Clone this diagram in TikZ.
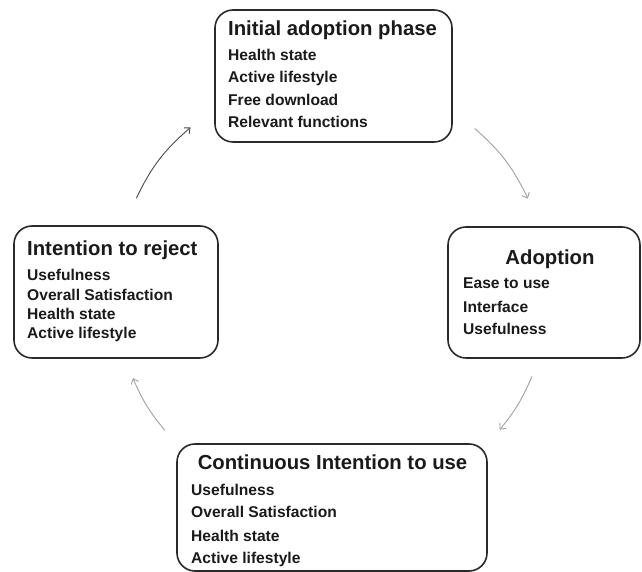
\documentclass[tikz,border=0pt]{standalone}
\usepackage{fontspec}
\setmainfont{Liberation Sans}
\usetikzlibrary{arrows.meta}
\definecolor{boxline}{HTML}{2A2A2A}
\definecolor{txt}{HTML}{1A1A1A}
\definecolor{arrdark}{HTML}{4A4A4A}
\definecolor{arrlight}{HTML}{A0A0A0}
\begin{document}
\begin{tikzpicture}[x=1pt,y=1pt,
  boxstyle/.style={draw=boxline, line width=1.6pt, rounded corners=18pt, inner sep=0pt, fill=white},
  titletext/.style={font=\fontsize{20.3}{24}\selectfont\bfseries, inner sep=0pt, text=txt},
  itemtext/.style={font=\fontsize{15.6}{18}\selectfont\bfseries, inner sep=0pt, text=txt, anchor=base west},
  arrow/.style={line width=0.9pt, -{Straight Barb[length=4.5pt,width=8pt]}}]
\useasboundingbox (0,0) rectangle (642,572);

% boxes
\node[boxstyle, minimum width=237pt, minimum height=132pt] (initial) at (333.5,496) {};
\node[boxstyle, minimum width=192pt, minimum height=131pt] (adoption) at (544,279.5) {};
\node[boxstyle, minimum width=204pt, minimum height=132pt] (reject) at (116,280) {};
\node[boxstyle, minimum width=310pt, minimum height=127pt] (continuous) at (332,64.5) {};

% Initial adoption phase
\node[titletext, anchor=base west] (t1) at (228,536) {Initial adoption phase};
\node[itemtext] (i11) at (228,511) {Health state};
\node[itemtext] (i12) at (228,489) {Active lifestyle};
\node[itemtext] (i13) at (228,466) {Free download};
\node[itemtext] (i14) at (228,444) {Relevant functions};

% Adoption
\node[titletext, anchor=base] (t2) at (550,307) {Adoption};
\node[itemtext] (i21) at (463,283) {Ease to use};
\node[itemtext] (i22) at (463,259) {Interface};
\node[itemtext] (i23) at (463,237) {Usefulness};

% Intention to reject
\node[titletext, anchor=base west] (t3) at (27,316) {Intention to reject};
\node[itemtext] (i31) at (27,291) {Usefulness};
\node[itemtext] (i32) at (27,271) {Overall Satisfaction};
\node[itemtext] (i33) at (27,252) {Health state};
\node[itemtext] (i34) at (27,233) {Active lifestyle};

% Continuous Intention to use
\node[titletext, anchor=base] (t4) at (332.5,102) {Continuous Intention to use};
\node[itemtext] (i41) at (191,76) {Usefulness};
\node[itemtext] (i42) at (191,54) {Overall Satisfaction};
\node[itemtext] (i43) at (191,30) {Health state};
\node[itemtext] (i44) at (191,8) {Active lifestyle};

% arcs
\coordinate (ctr) at (332,280);
\path (ctr) ++(154.4:217) coordinate (a1s);
\path (ctr) ++(130.7:217) coordinate (a1e);
\path (ctr) ++(48.9:217) coordinate (a2s);
\path (ctr) ++(25.5:217) coordinate (a2e);
\path (ctr) ++(-22.9:217) coordinate (a3s);
\path (ctr) ++(-39.4:217) coordinate (a3e);
\path (ctr) ++(219.6:217) coordinate (a4s);
\path (ctr) ++(203.4:217) coordinate (a4e);

\draw[arrow, draw=arrdark] (a1s) to[bend left=11.85] (a1e);
\draw[arrow, draw=arrlight] (a2s) to[bend left=11.7] (a2e);
\draw[arrow, draw=arrlight] (a3s) to[bend left=8.25] (a3e);
\draw[arrow, draw=arrlight] (a4s) to[bend left=8.1] (a4e);
\end{tikzpicture}
\end{document}
